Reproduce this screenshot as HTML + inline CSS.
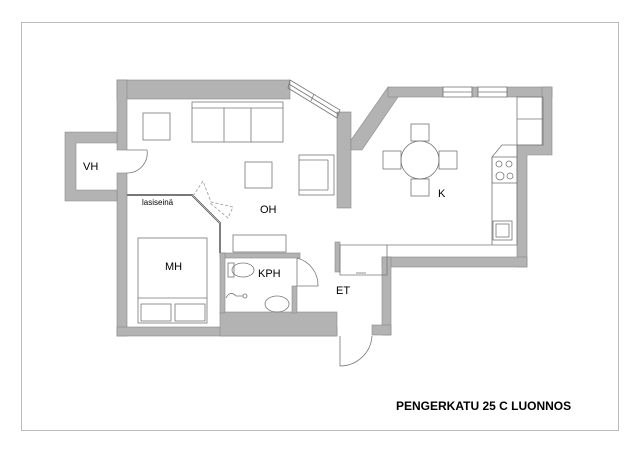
<!DOCTYPE html>
<html><head><meta charset="utf-8"><style>
html,body{margin:0;padding:0;background:#fff;}
svg{display:block;}
text{font-family:"Liberation Sans",Arial,sans-serif;fill:#000;}
</style></head><body>
<svg width="640" height="453" viewBox="0 0 640 453">
<rect x="21.5" y="22.5" width="597" height="408" fill="#fff" stroke="#bbb" stroke-width="1"/>
<g fill="#b3b3b3" stroke="#888" stroke-width="0.6">
<rect x="117" y="80" width="173" height="19"/>
<rect x="117" y="80" width="10" height="70"/>
<rect x="117" y="173" width="10" height="163"/>
<path d="M65 132 H117 V143 H107 V143 H76 V190 H107 V190 H117 V201 H65 Z"/>
<rect x="117" y="327" width="220" height="9"/>
<rect x="220" y="312" width="117" height="24"/>
<rect x="337" y="112" width="14" height="96"/>
<path d="M388 87 L398 97 L362 150 L351 150 L351 140 Z"/>
<rect x="388" y="87" width="55" height="10"/>
<rect x="472" y="87" width="6" height="10"/>
<rect x="507" y="87" width="45" height="10"/>
<path d="M542 87 H552 V155 H527 V267 H517 V145 H542 Z"/>
<rect x="382" y="257" width="145" height="10"/>
<rect x="382" y="257" width="9" height="78"/>
<rect x="372" y="325" width="19" height="10"/>
<rect x="335" y="242" width="5" height="30"/>
<rect x="220" y="253" width="80" height="5"/>
<rect x="220" y="253" width="5" height="60"/>
<rect x="292" y="286" width="5" height="27"/>
</g>
<g fill="none" stroke="#777" stroke-width="0.8">
<path d="M290 80 L340 110 L337 118 L288 88 Z"/>
<line x1="289" y1="84" x2="338" y2="114"/>
<line x1="314" y1="94" x2="311" y2="101"/>
<rect x="443" y="87" width="29" height="10"/>
<rect x="478" y="87" width="29" height="10"/>
<line x1="443" y1="92" x2="472" y2="92"/><line x1="478" y1="92" x2="507" y2="92"/>
<path d="M340 245 H387 V275 H340 Z"/>
<line x1="356" y1="273" x2="366" y2="273"/>
<rect x="143" y="113" width="27" height="27"/>
<rect x="192" y="102" width="91" height="40"/>
<line x1="192" y1="108" x2="283" y2="108"/>
<line x1="224" y1="108" x2="224" y2="142"/><line x1="251" y1="108" x2="251" y2="142"/>
<rect x="245" y="162" width="27" height="26"/>
<rect x="299" y="155" width="35" height="40"/>
<line x1="299" y1="160" x2="328" y2="160"/><line x1="299" y1="190" x2="328" y2="190"/><line x1="328" y1="160" x2="328" y2="190"/>
<rect x="233" y="235" width="53" height="17"/>
<rect x="138" y="238" width="69" height="85"/>
<rect x="141" y="304" width="30" height="17"/><rect x="175" y="304" width="30" height="17"/>
<line x1="138" y1="298" x2="207" y2="298"/>
<path d="M127 150 L147 150 A20 20 0 0 1 127 173"/>
<path d="M297 258 L297 286 M297 258 A28 28 0 0 1 318 286 L297 286" />
<path d="M340 336 L340 366 A32 32 0 0 0 372 336"/>
<rect x="228" y="263" width="6" height="14"/>
<ellipse cx="243" cy="270" rx="11" ry="7"/>
<ellipse cx="277" cy="304" rx="12" ry="8"/>
<path d="M226 298 Q230 290 236 296 L243 296"/><circle cx="245" cy="296" r="2"/>
<circle cx="420" cy="160" r="19"/>
<rect x="411" y="124" width="18" height="17"/><rect x="411" y="179" width="18" height="17"/>
<rect x="383" y="151" width="18" height="18"/><rect x="439" y="151" width="18" height="18"/>
<rect x="517" y="97" width="26" height="48"/><line x1="517" y1="119" x2="543" y2="119"/>
<path d="M492 245 V157 L502 145 H517 V245"/>
<rect x="492" y="157" width="25" height="26"/>
<circle cx="499" cy="164" r="3"/><circle cx="509" cy="164" r="3"/><circle cx="500" cy="176" r="4"/><circle cx="510" cy="176" r="3"/>
<rect x="493" y="221" width="19" height="19"/><rect x="496" y="224" width="13" height="13"/>
<line x1="387" y1="245" x2="517" y2="245"/>
</g>
<path d="M127 195 H192 L220 223 V253" fill="none" stroke="#555" stroke-width="2"/>
<path d="M127 195 H192 L220 223 V253" fill="none" stroke="#ddd" stroke-width="0.6"/>
<g fill="none" stroke="#999" stroke-dasharray="3,2" stroke-width="0.8">
<path d="M193 196 L203 181 L211 202 L233 207 L228 218 L210 203"/>
</g>
<text x="83" y="170" font-size="11">VH</text>
<text x="260" y="213" font-size="11">OH</text>
<text x="165" y="270" font-size="11">MH</text>
<text x="258" y="277" font-size="11">KPH</text>
<text x="336" y="294" font-size="11">ET</text>
<text x="438" y="197" font-size="11">K</text>
<text x="142" y="205" font-size="8">lasiseinä</text>
<text x="396" y="410" font-size="12" font-weight="bold">PENGERKATU 25 C LUONNOS</text>
</svg>
</body></html>
